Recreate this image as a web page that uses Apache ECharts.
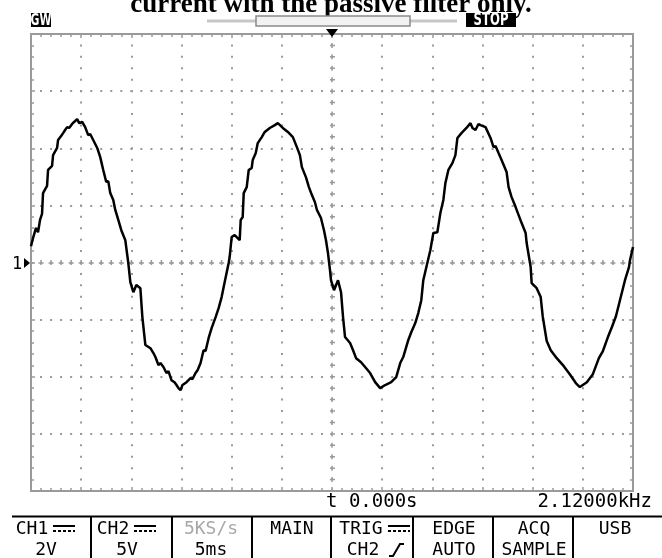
<!DOCTYPE html>
<html>
<head>
<meta charset="utf-8">
<script src="https://cdn.jsdelivr.net/npm/echarts@6/dist/echarts.min.js"></script>
<style>
  html, body { margin: 0; padding: 0; background: #fff; }
  #chart { width: 662px; height: 558px; }
</style>
</head>
<body>
<div id="chart"></div>
<script>
// CH1 trace: time in ms (5 ms/div, trigger at 0), level in V (2 V/div)
const times = [
  -30.0, -29.8, -29.5, -29.3, -29.1, -28.9, -28.8, -28.4, -28.3, -27.9, -27.8, -27.4, -27.3, -27.0,
  -26.8, -26.6, -26.4, -26.2, -25.9, -25.7, -25.4, -25.2, -24.9, -24.6, -24.3, -24.1, -23.8, -23.4,
  -23.3, -23.1, -22.8, -22.5, -22.3, -22.1, -21.8, -21.6, -21.3, -21.0, -20.6, -20.3, -20.1, -19.8,
  -19.5, -19.1, -18.9, -18.6, -18.1, -17.8, -17.6, -17.3, -17.1, -16.8, -16.5, -16.3, -16.0, -15.7,
  -15.5, -15.3, -15.1, -14.9, -14.8, -14.5, -14.1, -13.9, -13.6, -13.4, -13.1, -12.8, -12.6, -12.3,
  -12.2, -12.0, -11.6, -11.3, -11.0, -10.7, -10.3, -10.2, -10.0, -9.7, -9.2, -9.1, -8.9, -8.8,
  -8.5, -8.3, -8.0, -7.9, -7.6, -7.4, -7.0, -6.7, -6.2, -5.7, -5.4, -4.9, -4.4, -3.9,
  -3.5, -3.2, -3.0, -2.6, -2.3, -2.0, -1.7, -1.5, -1.1, -0.8, -0.6, -0.4, -0.2, -0.1,
  0.2, 0.6, 0.9, 1.1, 1.3, 1.8, 2.1, 2.4, 2.9, 3.3, 3.8, 4.3, 4.8, 5.3,
  5.9, 6.4, 6.8, 7.1, 7.6, 7.9, 8.3, 8.6, 8.9, 9.1, 9.5, 9.8, 10.1, 10.5,
  10.8, 11.1, 11.3, 11.6, 12.0, 12.3, 12.5, 12.9, 13.4, 13.8, 14.0, 14.3, 14.6, 14.8,
  15.3, 15.8, 16.1, 16.3, 16.6, 16.9, 17.4, 17.6, 17.9, 18.3, 18.6, 18.9, 19.3, 19.4,
  19.8, 19.9, 20.4, 20.8, 21.0, 21.4, 21.8, 22.4, 23.1, 23.7, 24.3, 24.7, 25.4, 26.0,
  26.6, 27.0, 27.5, 27.9, 28.3, 28.7, 29.2, 29.6, 29.7, 30.0
];
const volts = [
  0.57, 0.85, 1.21, 1.06, 1.49, 1.70, 2.43, 2.68, 3.24, 3.38, 3.76, 4.01, 4.29, 4.43,
  4.53, 4.64, 4.74, 4.71, 4.85, 4.92, 5.02, 4.88, 4.92, 4.74, 4.46, 4.50, 4.29, 4.01,
  4.04, 3.69, 3.24, 2.82, 2.85, 2.43, 2.19, 1.84, 1.49, 1.13, 0.78, -0.02, -0.69, -1.04,
  -0.79, -0.90, -1.91, -2.89, -3.00, -3.17, -3.31, -3.59, -3.52, -3.66, -3.87, -3.80, -4.12, -4.19,
  -4.29, -4.40, -4.47, -4.29, -4.36, -4.19, -4.05, -4.08, -3.87, -3.77, -3.52, -3.07, -3.10, -2.65,
  -2.68, -2.30, -1.91, -1.60, -1.21, -0.69, -0.02, 0.19, 0.89, 0.96, 0.78, 1.49, 1.59, 2.43,
  2.64, 3.24, 3.31, 3.59, 3.83, 4.18, 4.39, 4.57, 4.71, 4.81, 4.88, 4.71, 4.57, 4.39,
  4.04, 3.76, 3.34, 2.99, 2.64, 2.36, 2.11, 1.84, 1.56, 1.13, 0.78, 0.33, -0.27, -0.62,
  -0.97, -0.62, -1.04, -1.91, -2.61, -2.82, -3.07, -3.35, -3.49, -3.66, -3.87, -4.19, -4.40, -4.29,
  -4.19, -4.01, -3.52, -3.31, -2.72, -2.44, -2.12, -1.77, -1.32, -0.62, -0.02, 0.43, 1.03, 1.06,
  1.73, 2.19, 2.78, 3.24, 3.48, 3.76, 4.36, 4.53, 4.71, 4.88, 4.71, 4.64, 4.85, 4.81,
  4.74, 4.36, 4.04, 4.08, 3.83, 3.59, 3.17, 2.64, 2.29, 1.94, 1.66, 1.38, 1.03, 0.68,
  -0.16, -0.72, -0.90, -1.21, -1.88, -2.75, -3.07, -3.35, -3.63, -3.91, -4.22, -4.36, -4.19, -3.91,
  -3.35, -3.10, -2.61, -2.26, -1.88, -1.32, -0.62, -0.16, 0.08, 0.54
];

const timeMin = -30, timeMax = 30, timePerDiv = 5;
const voltMin = -8, voltMax = 8, voltPerDiv = 2;

const title = 'current with the passive filter only.';
const readout = ['t 0.000s', '2.12000kHz'];
const menuTop = ['CH1', 'CH2', '5KS/s', 'MAIN', 'TRIG', 'EDGE', 'ACQ', 'USB'];
const menuBottom = ['2V', '5V', '5ms', '', 'CH2', 'AUTO', 'SAMPLE', ''];

// screen geometry
const plot = { left: 31, top: 34, width: 602, height: 457 };
const stepX = plot.width / 60;   // 5 dots per division
const stepY = plot.height / 40;
const gridColor = '#9a9a9a';
const mono = '"DejaVu Sans Mono", monospace';

const chart = echarts.init(document.getElementById('chart'));

function frameAxis(pos, isX) {
  return {
    type: 'value',
    position: pos,
    min: isX ? timeMin : voltMin,
    max: isX ? timeMax : voltMax,
    interval: isX ? timePerDiv : voltPerDiv,
    axisLine: { show: false, onZero: false },
    axisLabel: { show: false },
    axisTick: { show: true, inside: true, length: 4, lineStyle: { color: gridColor, width: 1.5 } },
    minorTick: { show: true, splitNumber: 5, length: 3, lineStyle: { color: gridColor, width: 1.5 } },
    splitLine: { show: false }
  };
}

const xMain = frameAxis('bottom', true);
xMain.splitLine = { show: true, lineStyle: { color: gridColor, width: 2, type: [2, stepY - 2], dashOffset: 1 } };
const yMain = frameAxis('left', false);
yMain.splitLine = { show: true, lineStyle: { color: gridColor, width: 2, type: [2, stepX - 2], dashOffset: 1 } };

// centre cross drawn as "+" marks: a thin long dash and a thick short dash at each step
const crossLines = [
  { xAxis: 0, lineStyle: { color: gridColor, width: 1.5, type: [5, stepY - 5], dashOffset: 2.5 } },
  { xAxis: 0, lineStyle: { color: gridColor, width: 5, type: [1.5, stepY - 1.5], dashOffset: 0.75 } },
  { yAxis: 0, lineStyle: { color: gridColor, width: 1.5, type: [5, stepX - 5], dashOffset: 2.5 } },
  { yAxis: 0, lineStyle: { color: gridColor, width: 5, type: [1.5, stepX - 1.5], dashOffset: 0.75 } }
];

const menuX = [46, 127, 211, 292, 375, 454, 534, 615];
const dividers = [91, 172, 252, 331, 413, 493, 573];

function dcSymbol(x0, y0) {
  return [
    { type: 'line', shape: { x1: x0, y1: y0, x2: x0 + 22, y2: y0 }, style: { stroke: '#000', lineWidth: 2 } },
    { type: 'line', shape: { x1: x0, y1: y0 + 5, x2: x0 + 22, y2: y0 + 5 }, style: { stroke: '#000', lineWidth: 2, lineDash: [3, 2] } }
  ];
}

const graphics = [
  { type: 'text', style: { text: title, x: 331, y: 19, align: 'center', verticalAlign: 'bottom',
      fontFamily: '"Liberation Serif", serif', fontWeight: 'bold', fontSize: 27, fill: '#000' } },
  { type: 'rect', shape: { x: 31, y: 13, width: 20, height: 14 }, style: { fill: '#000' } },
  { type: 'text', scaleY: 1.3, originX: 41, originY: 20,
    style: { text: 'GW', x: 41, y: 20.5, align: 'center', verticalAlign: 'middle',
      fontFamily: '"DejaVu Sans Condensed", "DejaVu Sans"', fontWeight: 'bold', fontSize: 12, fill: '#fff' } },
  { type: 'line', shape: { x1: 207, y1: 21, x2: 457, y2: 21 }, style: { stroke: '#c6c6c6', lineWidth: 3 } },
  { type: 'rect', shape: { x: 256, y: 16, width: 154, height: 10 }, style: { fill: '#f2f2f2', stroke: '#8a8a8a', lineWidth: 1.5 } },
  { type: 'rect', shape: { x: 466, y: 13, width: 50, height: 14 }, style: { fill: '#000' } },
  { type: 'text', scaleY: 1.3, originX: 491, originY: 20,
    style: { text: 'STOP', x: 491, y: 20.5, align: 'center', verticalAlign: 'middle',
      fontFamily: '"DejaVu Sans Condensed", "DejaVu Sans"', fontWeight: 'bold', fontSize: 13, fill: '#fff' } },
  { type: 'polygon', z: 10, shape: { points: [[326, 29], [338, 29], [332, 37]] }, style: { fill: '#000' } },
  { type: 'text', style: { text: '1', x: 17, y: 265, align: 'center', verticalAlign: 'middle',
      fontFamily: mono, fontSize: 17, fill: '#000' } },
  { type: 'polygon', shape: { points: [[24, 258], [24, 268], [30, 263]] }, style: { fill: '#000' } },
  { type: 'text', style: { text: readout[0], x: 326, y: 502, align: 'left', verticalAlign: 'middle',
      fontFamily: mono, fontSize: 19, fill: '#000' } },
  { type: 'text', style: { text: readout[1], x: 652, y: 502, align: 'right', verticalAlign: 'middle',
      fontFamily: mono, fontSize: 19, fill: '#000' } },
  { type: 'line', shape: { x1: 12, y1: 516.5, x2: 662, y2: 516.5 }, style: { stroke: '#000', lineWidth: 2 } },
  { type: 'polyline', shape: { points: [[389, 556], [393, 556], [400, 544], [404, 544]] }, style: { stroke: '#000', lineWidth: 2, fill: null } }
];

dividers.forEach(x => graphics.push({ type: 'line', shape: { x1: x, y1: 517, x2: x, y2: 558 }, style: { stroke: '#000', lineWidth: 2 } }));

menuTop.forEach((t, i) => {
  const withDc = (i === 0 || i === 1 || i === 4);
  graphics.push({ type: 'text', style: {
    text: t, x: withDc ? menuX[i] - 14 : menuX[i], y: 529, align: 'center', verticalAlign: 'middle',
    fontFamily: mono, fontSize: 18, fill: i === 2 ? '#a8a8a8' : '#000' } });
  if (withDc) graphics.push(...dcSymbol(menuX[i] + (t.length > 3 ? 13 : 7), 526));
});
menuBottom.forEach((t, i) => {
  if (!t) return;
  graphics.push({ type: 'text', style: {
    text: t, x: i === 4 ? menuX[i] - 12 : menuX[i], y: 550, align: 'center', verticalAlign: 'middle',
    fontFamily: mono, fontSize: 18, fill: '#000' } });
});

chart.setOption({
  animation: false,
  backgroundColor: '#fff',
  grid: { left: plot.left, top: plot.top, width: plot.width, height: plot.height,
    show: true, borderColor: gridColor, borderWidth: 2, backgroundColor: 'transparent' },
  xAxis: [xMain, frameAxis('top', true)],
  yAxis: [yMain, frameAxis('right', false)],
  series: [
    {
      type: 'line', data: [], silent: true, z: 1,
      markLine: { silent: true, symbol: 'none', label: { show: false }, animation: false, data: crossLines }
    },
    {
      name: 'CH1', type: 'line', z: 5,
      data: times.map((t, i) => [t, volts[i]]),
      symbol: 'none', smooth: false, clip: true,
      lineStyle: { color: '#000', width: 2.5 }
    }
  ],
  graphic: graphics
});
</script>
</body>
</html>
